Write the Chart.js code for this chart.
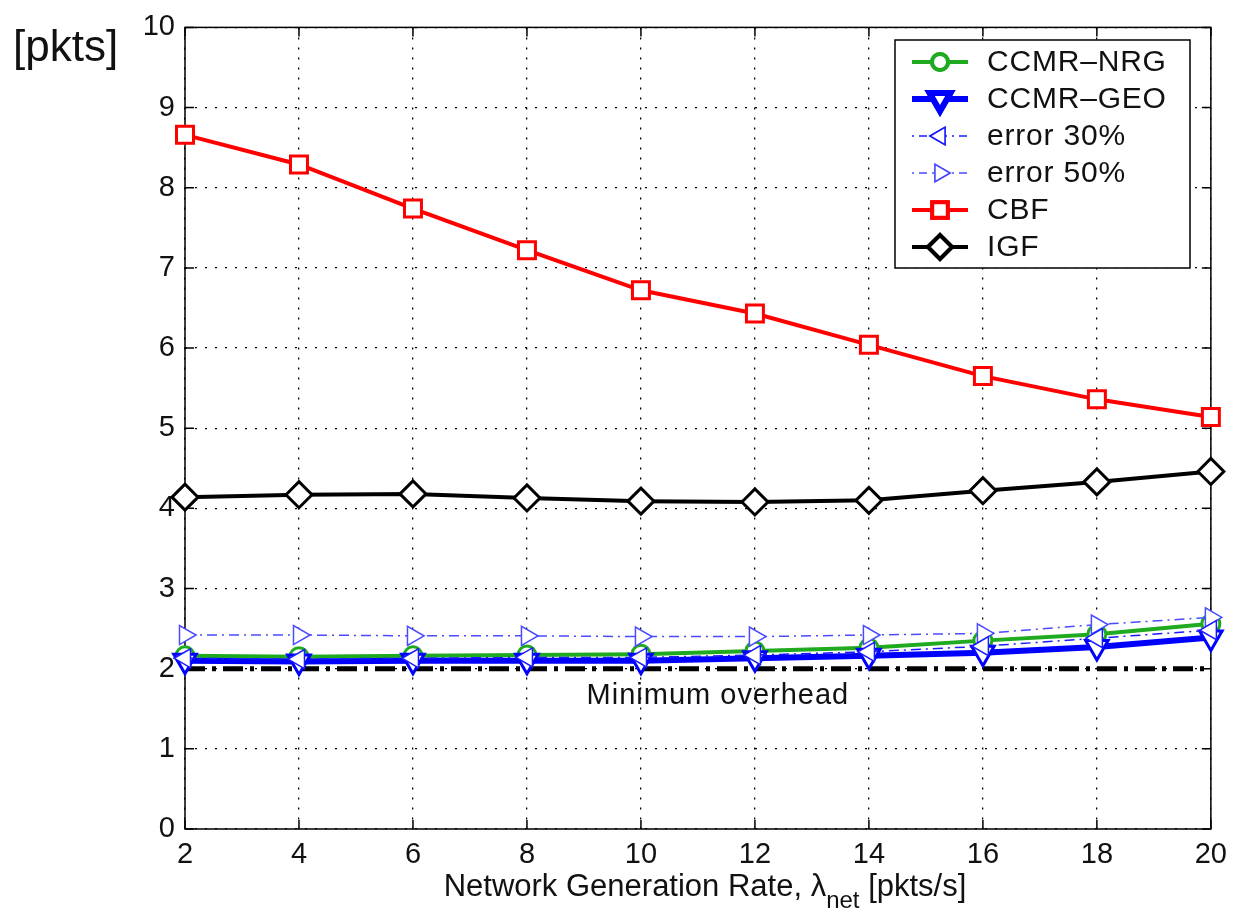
<!DOCTYPE html>
<html>
<head>
<meta charset="utf-8">
<style>
  html, body { margin: 0; padding: 0; background: #fff; }
  #wrap { position: relative; width: 1236px; height: 918px; }
</style>
<script src="https://cdn.jsdelivr.net/npm/chart.js@4/dist/chart.umd.min.js"></script>
</head>
<body>
<div id="wrap"><canvas id="overheadChart" width="1236" height="918"></canvas></div>
<script>
// values
const rates = [2, 4, 6, 8, 10, 12, 14, 16, 18, 20];
const ccmrNrg = [2.16, 2.15, 2.16, 2.17, 2.18, 2.22, 2.26, 2.35, 2.43, 2.56];
const ccmrGeo = [2.10, 2.09, 2.10, 2.10, 2.10, 2.13, 2.16, 2.20, 2.27, 2.39];
const error30 = [2.13, 2.12, 2.13, 2.14, 2.14, 2.17, 2.21, 2.28, 2.38, 2.48];
const error50 = [2.42, 2.42, 2.41, 2.41, 2.40, 2.40, 2.42, 2.44, 2.55, 2.64];
const cbf = [8.66, 8.29, 7.74, 7.22, 6.72, 6.43, 6.04, 5.65, 5.36, 5.14];
const igf = [4.14, 4.17, 4.18, 4.13, 4.09, 4.08, 4.10, 4.22, 4.33, 4.46];
const minOverhead = [2, 2, 2, 2, 2, 2, 2, 2, 2, 2];
const yTicks = [0, 1, 2, 3, 4, 5, 6, 7, 8, 9, 10];

const FONT = "'Liberation Sans', Arial, Helvetica, sans-serif";

const toPoints = (arr) => arr.map((v, i) => ({ x: rates[i], y: v }));

const series = [
  { label: "CCMR\u2013NRG", data: ccmrNrg, color: "#1faa1f", width: 4, dash: [], style: "circle", radius: 9, rot: 0, order: 2 },
  { label: "CCMR\u2013GEO", data: ccmrGeo, color: "#0000ff", width: 6, dash: [], style: "triangle", radius: 13, rot: 180, order: 1 },
  { label: "error 30%", data: error30, color: "#1a1aff", width: 1.5, dash: [10, 5, 2, 5], style: "triangle", radius: 11, rot: -90, order: 0 },
  { label: "error 50%", data: error50, color: "#4a4aff", width: 1.5, dash: [10, 5, 2, 5], style: "triangle", radius: 11, rot: 90, order: 0 },
  { label: "CBF", data: cbf, color: "#ff0000", width: 4, dash: [], style: "rect", radius: 12, rot: 0, order: 3 },
  { label: "IGF", data: igf, color: "#000000", width: 4, dash: [], style: "rectRot", radius: 13, rot: 0, order: 3 },
];

const datasets = series.map((s) => ({
  label: s.label,
  data: toPoints(s.data),
  borderColor: s.color,
  backgroundColor: "#ffffff",
  borderWidth: s.width,
  borderDash: s.dash,
  pointStyle: s.style,
  pointRadius: s.radius,
  pointRotation: s.rot,
  pointBorderWidth: s.width > 3 ? 3 : 1.5,
  pointBackgroundColor: "#ffffff",
  pointBorderColor: s.color,
  tension: 0,
  clip: false,
  order: s.order,
}));

datasets.push({
  label: "Minimum overhead",
  data: toPoints(minOverhead),
  borderColor: "#000",
  borderWidth: 5,
  borderDash: [20, 7, 4, 7],
  pointRadius: 0,
  order: 9,
});

// frame, inward ticks, legend box and extra texts
const decorations = {
  id: "decorations",
  beforeDatasetsDraw(chart) {
    const { ctx, chartArea: a, scales } = chart;
    ctx.save();
    ctx.strokeStyle = "#000";
    ctx.lineWidth = 1.5;
    ctx.strokeRect(a.left, a.top, a.right - a.left, a.bottom - a.top);
    ctx.beginPath();
    rates.forEach((r) => {
      const x = scales.x.getPixelForValue(r);
      ctx.moveTo(x, a.bottom); ctx.lineTo(x, a.bottom - 9);
      ctx.moveTo(x, a.top); ctx.lineTo(x, a.top + 9);
    });
    yTicks.forEach((t) => {
      const y = scales.y.getPixelForValue(t);
      ctx.moveTo(a.left, y); ctx.lineTo(a.left + 9, y);
      ctx.moveTo(a.right, y); ctx.lineTo(a.right - 9, y);
    });
    ctx.stroke();
    ctx.restore();
  },
  afterDatasetsDraw(chart) {
    const { ctx, chartArea: a, scales } = chart;
    ctx.save();
    ctx.strokeStyle = "#000";
    ctx.setLineDash([]);

    // Minimum overhead text
    ctx.fillStyle = "#111";
    ctx.font = "29px " + FONT;
    ctx.letterSpacing = "1px";
    ctx.textAlign = "center";
    ctx.textBaseline = "alphabetic";
    ctx.fillText("Minimum overhead", scales.x.getPixelForValue(11.35), scales.y.getPixelForValue(1.56));

    // legend
    const lx = 895, ly = 40, lw = 295, lh = 228;
    ctx.fillStyle = "#fff";
    ctx.fillRect(lx, ly, lw, lh);
    ctx.lineWidth = 1.5;
    ctx.strokeRect(lx, ly, lw, lh);
    series.forEach((s, i) => {
      const y = 62 + i * 37;
      ctx.strokeStyle = s.color;
      ctx.lineWidth = s.width;
      ctx.setLineDash(s.dash.length ? [2, 5, 8, 5] : []);
      ctx.beginPath();
      ctx.moveTo(912, y); ctx.lineTo(968, y);
      ctx.stroke();
      ctx.setLineDash([]);
      Chart.helpers.drawPoint(ctx, {
        pointStyle: s.style, rotation: s.rot, radius: s.radius - 1,
        borderWidth: s.width > 3 ? 3 : 1.5,
      }, 940, y);
      ctx.fillStyle = "#fff";
      ctx.fill();
      ctx.stroke();
      ctx.fillStyle = "#111";
      ctx.font = "30px " + FONT;
      ctx.letterSpacing = "0.8px";
      ctx.textAlign = "left";
      ctx.textBaseline = "middle";
      ctx.fillText(s.label, 987, y + 1);
    });

    // y unit label
    ctx.letterSpacing = "0px";
    ctx.font = "44px " + FONT;
    ctx.textAlign = "left";
    ctx.textBaseline = "alphabetic";
    ctx.fillStyle = "#111";
    ctx.fillText("[pkts]", 13, 61);

    // x title with subscript
    const main = "Network Generation Rate, \u03bb";
    const sub = "net";
    const tail = " [pkts/s]";
    ctx.font = "31px " + FONT;
    const w1 = ctx.measureText(main).width;
    const w3 = ctx.measureText(tail).width;
    ctx.font = "24px " + FONT;
    const w2 = ctx.measureText(sub).width;
    const x0 = 705 - (w1 + w2 + w3) / 2;
    const base = 896;
    ctx.font = "31px " + FONT;
    ctx.fillText(main, x0, base);
    ctx.font = "24px " + FONT;
    ctx.fillText(sub, x0 + w1, base + 12);
    ctx.font = "31px " + FONT;
    ctx.fillText(tail, x0 + w1 + w2, base);
    ctx.restore();
  },
};

new Chart(document.getElementById("overheadChart"), {
  type: "line",
  data: { datasets },
  options: {
    responsive: false,
    animation: false,
    layout: { padding: { left: 15, right: 21, top: 20, bottom: 29 } },
    plugins: { legend: { display: false }, tooltip: { enabled: false } },
    scales: {
      x: {
        type: "linear",
        min: 2,
        max: 20,
        afterFit: (s) => { s.height = 60; },
        afterBuildTicks: (s) => { s.ticks = rates.map((v) => ({ value: v })); },
        ticks: { color: "#111", font: { family: FONT, size: 29 }, padding: 9, maxRotation: 0 },
        grid: { color: "#000", lineWidth: 1.3, drawTicks: false },
        border: { display: false, dash: [2, 8] },
      },
      y: {
        min: 0,
        max: 10,
        afterFit: (s) => { s.width = 170; },
        afterBuildTicks: (s) => { s.ticks = yTicks.map((v) => ({ value: v })); },
        ticks: { color: "#111", font: { family: FONT, size: 29 }, padding: 10 },
        grid: { color: "#000", lineWidth: 1.3, drawTicks: false },
        border: { display: false, dash: [2, 8] },
      },
    },
  },
  plugins: [decorations],
});
</script>
</body>
</html>
